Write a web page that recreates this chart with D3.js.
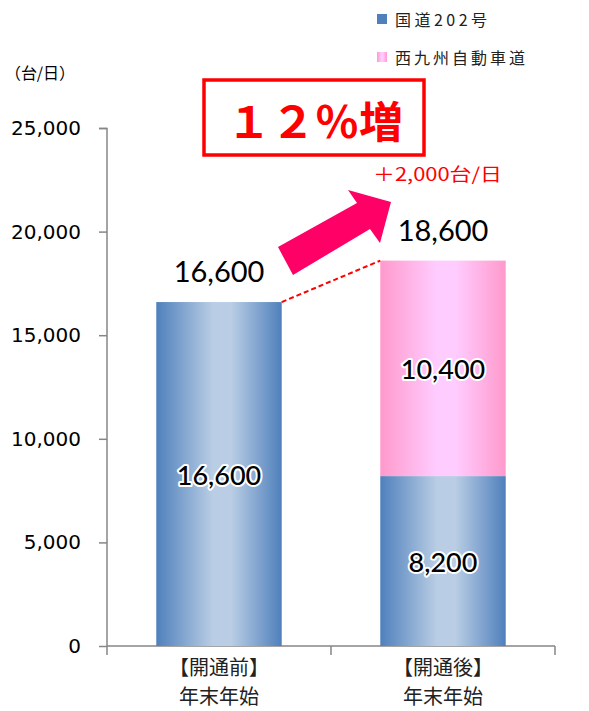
<!DOCTYPE html>
<html><head><meta charset="utf-8">
<script src="https://cdn.jsdelivr.net/npm/d3@7"></script>
<style>body{margin:0;background:#fff}svg{display:block}</style>
</head><body>
<svg id="c" width="589" height="711"></svg>
<script>
const categories = [["【開通前】","年末年始"],["【開通後】","年末年始"]];
const seriesNames = ["国道202号","西九州自動車道"];
const route202 = [16600, 8200];
const expressway = [0, 10400];
const totals = [16600, 18600];
const yTicks = [0,5000,10000,15000,20000,25000];
const headline = "１２％増";
const diffText = "＋2,000台/日";
const unitText = "（台/日）";

const svg = d3.select("#c");
const defs = svg.append("defs");
function grad(id, edge, mid){
  const g = defs.append("linearGradient").attr("id",id).attr("x1","0").attr("x2","1").attr("y1","0").attr("y2","0");
  [[0,edge],[0.45,mid],[0.6,mid],[1,edge]].forEach(([o,c])=>g.append("stop").attr("offset",o).attr("stop-color",c));
}
grad("gBlue","#4f80bc","#b9cde4");
grad("gPink","#ff99cc","#ffccff");

const x = d3.scaleBand().domain([0,1]).range([107,555]).paddingInner(0.44).paddingOuter(0.22);
const y = d3.scaleLinear().domain([0,25000]).range([646,128]);

// y axis
const yAxis = svg.append("g").attr("transform","translate(107,0)")
  .call(d3.axisLeft(y).tickValues(yTicks).tickSize(8).tickPadding(18).tickFormat(d3.format(",")));
yAxis.select(".domain").attr("stroke","#868686").attr("stroke-width",1.5).attr("d","M-8,128.5H0V646");
yAxis.selectAll(".tick line").attr("stroke","#868686").attr("stroke-width",1.5);
yAxis.selectAll(".tick text").attr("font-family","DejaVu Sans").attr("font-size",20).attr("fill","#000");

// x axis baseline & ticks
svg.append("line").attr("x1",107).attr("x2",555).attr("y1",646).attr("y2",646).attr("stroke","#868686").attr("stroke-width",1.5);
[107, (x(0)+x.bandwidth()+x(1))/2, 555].forEach(t=>{
  svg.append("line").attr("x1",t).attr("x2",t).attr("y1",646).attr("y2",655).attr("stroke","#868686").attr("stroke-width",1.5);
});

// bars
svg.selectAll(".b1").data(route202).join("rect")
  .attr("x",(d,i)=>x(i)).attr("width",x.bandwidth())
  .attr("y",d=>y(d)).attr("height",d=>y(0)-y(d)).attr("fill","url(#gBlue)");
svg.selectAll(".b2").data(expressway).join("rect")
  .attr("x",(d,i)=>x(i)).attr("width",x.bandwidth())
  .attr("y",(d,i)=>y(route202[i]+d)).attr("height",d=>y(0)-y(d)).attr("fill","url(#gPink)");

// inside labels
function inLabel(cx, cy, txt){
  svg.append("text").attr("x",cx).attr("y",cy).attr("text-anchor","middle").attr("dominant-baseline","central")
    .attr("font-family","Lato").attr("font-weight",500).attr("font-size",27).attr("fill","#000")
    .attr("stroke","#fff").attr("stroke-width",4).attr("stroke-linejoin","round").attr("paint-order","stroke")
    .text(txt);
}
route202.forEach((d,i)=>inLabel(x(i)+x.bandwidth()/2, (y(0)+y(d))/2, d3.format(",")(d)));
expressway.forEach((d,i)=>{ if(d>0) inLabel(x(i)+x.bandwidth()/2, (y(route202[i])+y(route202[i]+d))/2, d3.format(",")(d)); });

// totals
totals.forEach((d,i)=>{
  svg.append("text").attr("x",x(i)+x.bandwidth()/2).attr("y",y(d)-20).attr("text-anchor","middle")
    .attr("font-family","Lato").attr("font-size",29).attr("fill","#000").text(d3.format(",")(d));
});

// dashed connector
svg.append("line").attr("x1",x(0)+x.bandwidth()).attr("y1",y(totals[0]))
  .attr("x2",x(1)).attr("y2",y(totals[1]))
  .attr("stroke","#ff0000").attr("stroke-width",2).attr("stroke-dasharray","5,3");

// big arrow
svg.append("polygon")
  .attr("points","278,247 293,275 370,229 380,243 391,202 348,190 357,203")
  .attr("fill","#ff0066");

// headline box
svg.append("rect").attr("x",204).attr("y",80).attr("width",220).attr("height",75)
  .attr("fill","#fff").attr("stroke","#ff0000").attr("stroke-width",3.5);
svg.append("text").attr("x",227).attr("y",119).attr("dominant-baseline","central")
  .attr("font-family","Noto Sans CJK JP").attr("font-weight","bold").attr("font-size",43).attr("fill","#ff0000")
  .attr("textLength",176).attr("lengthAdjust","spacingAndGlyphs").text(headline);
svg.append("text").attr("x",373).attr("y",181).attr("font-family","Noto Sans CJK JP").attr("font-size",18).attr("fill","#ff0000")
  .attr("textLength",129).attr("lengthAdjust","spacingAndGlyphs").text(diffText);

// unit
svg.append("text").attr("x",5).attr("y",79).attr("font-family","Noto Sans CJK JP").attr("font-size",16).attr("fill","#000")
  .attr("textLength",70).attr("lengthAdjust","spacing").text(unitText);

// x labels
categories.forEach((c,i)=>{
  const cx = x(i)+x.bandwidth()/2;
  c.forEach((t,j)=>svg.append("text").attr("x",cx).attr("y",675+j*29).attr("text-anchor","middle")
    .attr("font-family","Noto Sans CJK JP").attr("font-size",20).attr("fill","#222").text(t));
});

// legend
const legendLen = [92, 130];
seriesNames.forEach((n,i)=>{
  const yy = 19 + i*38;
  svg.append("rect").attr("x",377).attr("y",yy-5).attr("width",10).attr("height",10)
    .attr("fill", i===0 ? "#4f80bc" : "url(#gPink)");
  svg.append("text").attr("x",395).attr("y",yy).attr("dominant-baseline","central")
    .attr("font-family","Noto Sans CJK JP").attr("font-size",16).attr("fill","#222")
    .attr("textLength",legendLen[i]).attr("lengthAdjust","spacing").text(n);
});
</script>
</body></html>
